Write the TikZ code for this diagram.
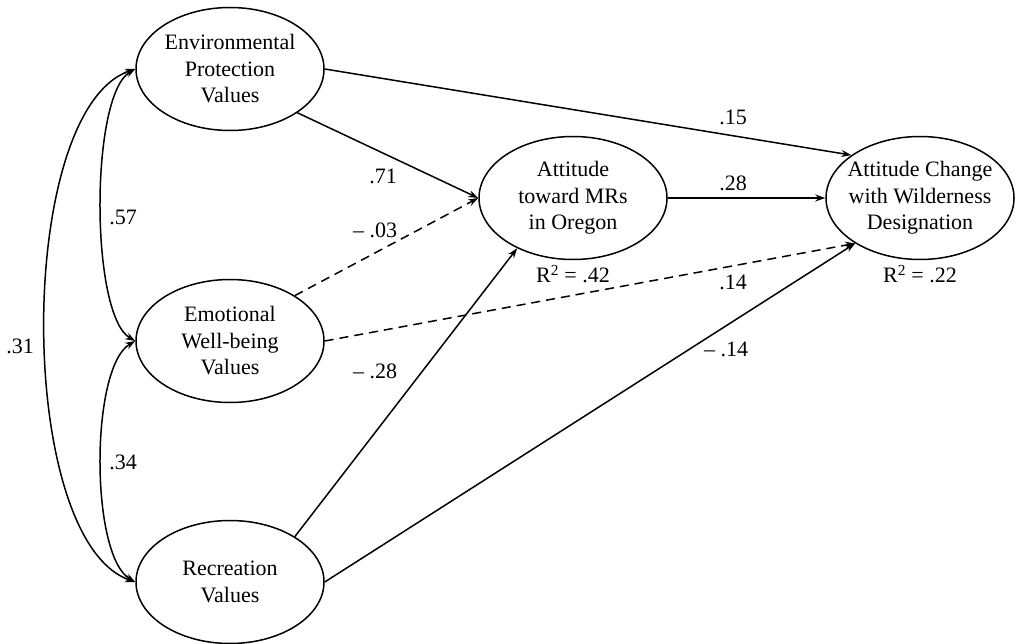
\documentclass[tikz,border=0pt]{standalone}
\usepackage{fontspec}
\setmainfont{Liberation Serif}
\usetikzlibrary{shapes.geometric,arrows.meta}
\begin{document}
\begin{tikzpicture}[x=1pt,y=-1pt,
  font=\fontsize{22}{26.5}\selectfont,
  latent/.style={draw, ellipse, line width=1.5pt, minimum width=188pt, minimum height=123pt, inner sep=-25pt, align=center},
  path/.style={line width=1.5pt, -{Stealth[length=10pt,width=7pt]}},
  cov/.style={line width=1.5pt, {Stealth[length=10pt,width=7pt]}-{Stealth[length=10pt,width=7pt]}},
  dpath/.style={path, dash pattern=on 9pt off 6pt},
  lab/.style={inner sep=0pt}]
\useasboundingbox (0,0) rectangle (1016,644);
\node[latent] (env) at (230,69) {Environmental\\Protection\\Values};
\node[latent] (emo) at (230,341) {Emotional\\Well-being\\Values};
\node[latent] (rec) at (230,582) {Recreation\\Values};
\node[latent] (mrs) at (573,198) {Attitude\\toward MRs\\in Oregon};
\node[latent] (chg) at (920,198) {Attitude Change\\with Wilderness\\Designation};
\node[lab] (r42) at (573,274) {R\textsuperscript{2} = .42};
\node[lab] (r22) at (920,274) {R\textsuperscript{2} = .22};
% paths
\draw[path] (env.east) -- (chg.148);
\draw[path] (env.-33) -- (mrs.west);
\draw[path] (mrs.east) -- (chg.west);
\draw[dpath] (emo.35) -- (mrs.west);
\draw[dpath] (emo.east) -- (chg.-145);
\draw[path] (rec.35) -- (mrs.-138);
\draw[path] (rec.east) -- (chg.-145);
% covariances
\draw[cov] (env.west) .. controls (90,95) and (90,315) .. (emo.west);
\draw[cov] (emo.west) .. controls (90,367) and (90,556) .. (rec.west);
\draw[cov] (env.west) .. controls (15,110) and (15,540) .. (rec.west);
% labels
\node[lab] (l15) at (733,117) {.15};
\node[lab] (l71) at (383,176) {.71};
\node[lab] (l28a) at (733,183) {.28};
\node[lab] (l03) at (375,230) {\textendash\ .03};
\node[lab] (l14a) at (733,282) {.14};
\node[lab] (l28b) at (375,371) {\textendash\ .28};
\node[lab] (l14b) at (726,349) {\textendash\ .14};
\node[lab] (l57) at (123,217) {.57};
\node[lab] (l34) at (123,462) {.34};
\node[lab] (l31) at (20,346) {.31};
\end{tikzpicture}
\end{document}
